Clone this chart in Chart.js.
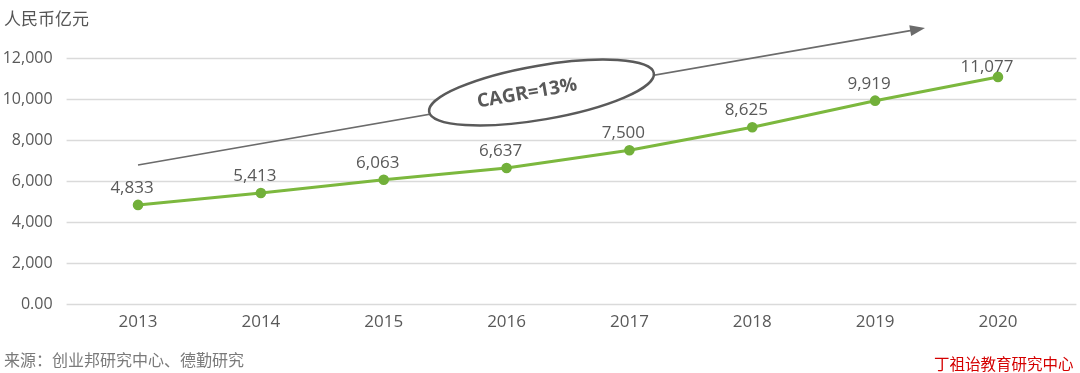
<!DOCTYPE html>
<html>
<head>
<meta charset="utf-8">
<script src="https://cdn.jsdelivr.net/npm/chart.js@4/dist/chart.umd.min.js"></script>
<style>
  html, body { margin: 0; padding: 0; background: #fff; }
  #wrap { position: relative; width: 1080px; height: 373px; }
  canvas { position: absolute; left: 0; top: 0; }
  .txt { position: absolute; font-family: 'Noto Sans CJK SC', sans-serif; white-space: nowrap; }
</style>
</head>
<body>
<div id="wrap">
  <canvas id="c" width="1080" height="373"></canvas>
  <div class="txt" style="left:4px; top:5px; font-size:17px; color:#555;">人民币亿元</div>
  <div class="txt" style="left:4px; top:347px; font-size:16px; color:#7a7a7a;">来源：创业邦研究中心、德勤研究</div>
  <div class="txt" style="left:934px; top:352px; font-size:15.5px; color:#d40000;">丁祖诒教育研究中心</div>
</div>
<script>
const years = ['2013', '2014', '2015', '2016', '2017', '2018', '2019', '2020'];
const revenue = [4833, 5413, 6063, 6637, 7500, 8625, 9919, 11077];
const yTicks = [0, 2000, 4000, 6000, 8000, 10000, 12000];
const cagrLabel = 'CAGR=13%';

Chart.defaults.font.family = "'Open Sans', sans-serif";
Chart.defaults.color = '#595959';

const gridPlugin = {
  id: 'extGrid',
  beforeDatasetsDraw(chart) {
    const ctx = chart.ctx, y = chart.scales.y, a = chart.chartArea;
    ctx.save();
    ctx.strokeStyle = '#dadada';
    ctx.lineWidth = 1.5;
    yTicks.forEach(v => {
      const py = Math.round(y.getPixelForValue(v)) + 0.5;
      ctx.beginPath();
      ctx.moveTo(a.left - 10, py);
      ctx.lineTo(a.right + 17, py);
      ctx.stroke();
    });
    ctx.restore();

    // CAGR arrow anchored to data scale
    const x = chart.scales.x;
    const x0 = x.getPixelForValue(0), y0 = y.getPixelForValue(6780);
    const x1 = x.getPixelForValue(6.406), y1 = y.getPixelForValue(13460);
    const ang = Math.atan2(y1 - y0, x1 - x0);
    ctx.save();
    ctx.strokeStyle = '#6b6b6b';
    ctx.fillStyle = '#6b6b6b';
    ctx.lineWidth = 1.6;
    ctx.beginPath();
    ctx.moveTo(x0, y0);
    ctx.lineTo(x1 - 12 * Math.cos(ang), y1 - 12 * Math.sin(ang));
    ctx.stroke();
    ctx.translate(x1, y1);
    ctx.rotate(ang);
    ctx.beginPath();
    ctx.moveTo(0, 0);
    ctx.lineTo(-15, -5.5);
    ctx.lineTo(-15, 5.5);
    ctx.closePath();
    ctx.fill();
    ctx.restore();

    // ellipse
    const ex = x.getPixelForValue(3.284), ey = y.getPixelForValue(10317);
    ctx.save();
    ctx.beginPath();
    ctx.ellipse(ex, ey, 114, 27, -9.8 * Math.PI / 180, 0, Math.PI * 2);
    ctx.fillStyle = '#ffffff';
    ctx.fill();
    ctx.strokeStyle = '#5a5a5a';
    ctx.lineWidth = 2.5;
    ctx.stroke();
    ctx.restore();

    const tx = x.getPixelForValue(3.167), ty = y.getPixelForValue(10268);
    ctx.save();
    ctx.translate(tx, ty);
    ctx.rotate(-10 * Math.PI / 180);
    ctx.font = "bold 19px 'Open Sans', sans-serif";
    ctx.fillStyle = '#595959';
    ctx.textAlign = 'center';
    ctx.textBaseline = 'middle';
    ctx.fillText(cagrLabel, 0, 0);
    ctx.restore();
  }
};

const labelPlugin = {
  id: 'valLabels',
  afterDatasetsDraw(chart) {
    const ctx = chart.ctx;
    const meta = chart.getDatasetMeta(0);
    ctx.save();
    ctx.font = "17px 'Open Sans', sans-serif";
    ctx.fillStyle = '#595959';
    ctx.textAlign = 'center';
    ctx.textBaseline = 'middle';
    meta.data.forEach((pt, i) => {
      let ly = pt.y - 17;
      let lx = pt.x - 6;
      if (ly < 67) { ly = 67; lx = pt.x - 11; }
      ctx.fillText(revenue[i].toLocaleString('en-US'), lx, ly);
    });
    ctx.restore();
  }
};

new Chart(document.getElementById('c'), {
  type: 'line',
  data: {
    labels: years,
    datasets: [{
      data: revenue,
      borderColor: '#7cb83e',
      backgroundColor: '#72b03a',
      pointBackgroundColor: '#72b03a',
      pointBorderColor: '#72b03a',
      borderWidth: 3,
      pointRadius: 3.8,
      tension: 0
    }]
  },
  options: {
    responsive: false,
    devicePixelRatio: 1,
    animation: false,
    layout: { padding: { top: 58, right: 20.6, left: 0, bottom: 0 } },
    plugins: { legend: { display: false }, tooltip: { enabled: false } },
    scales: {
      x: {
        offset: true,
        grid: { display: false, drawTicks: false },
        border: { display: false },
        ticks: { font: { size: 17 }, color: '#595959', padding: 8 },
        afterFit(s) { s.height = 69; }
      },
      y: {
        min: 0, max: 12000,
        afterBuildTicks(s) { s.ticks = yTicks.map(v => ({ value: v })); },
        grid: { display: false, drawTicks: false },
        border: { display: false },
        ticks: {
          font: { size: 16 }, color: '#595959', padding: 24,
          callback: v => v === 0 ? '0.00' : Number(v).toLocaleString('en-US')
        },
        afterFit(s) { s.width = 76.6; }
      }
    }
  },
  plugins: [gridPlugin, labelPlugin]
});
</script>
</body>
</html>
